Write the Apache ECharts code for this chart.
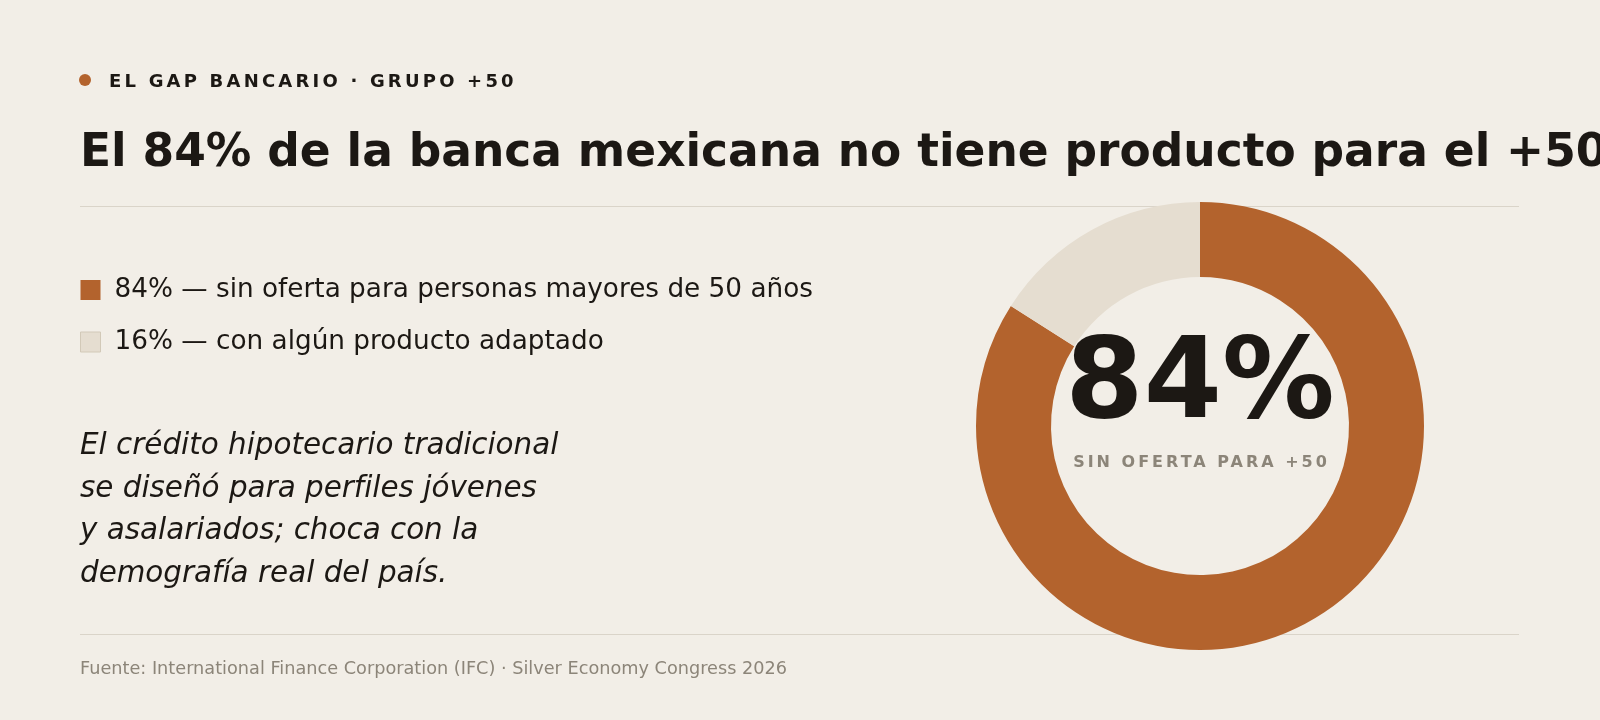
<!DOCTYPE html>
<html lang="es">
<head>
<meta charset="utf-8">
<title>El gap bancario · Grupo +50</title>
<script src="https://cdn.jsdelivr.net/npm/echarts@6/dist/echarts.min.js"></script>
<style>
  html, body {
    margin: 0;
    padding: 0;
    background: #f2eee7;
    font-family: "DejaVu Sans", sans-serif;
    color: #1c1814;
  }
  .page {
    position: relative;
    width: 1600px;
    height: 720px;
    overflow: hidden;
    background: #f2eee7;
  }
  #chart {
    position: absolute;
    left: 0;
    top: 0;
    width: 1600px;
    height: 720px;
  }
  .overlay {
    position: absolute;
    white-space: nowrap;
    pointer-events: none;
  }
  .dot {
    position: absolute;
    left: 79px;
    top: 74px;
    width: 12px;
    height: 12px;
    border-radius: 50%;
    background: #b3632d;
  }
  .kicker {
    left: 109px;
    top: 71px;
    font-size: 18px;
    line-height: 20px;
    font-weight: bold;
    letter-spacing: 3.2px;
  }
  .headline {
    left: 80px;
    top: 128px;
    font-size: 45.5px;
    line-height: 46px;
    font-weight: bold;
  }
  .rule {
    position: absolute;
    left: 80px;
    width: 1439px;
    height: 1px;
    background: #dad4c9;
  }
  .note {
    left: 80px;
    top: 423px;
    font-size: 29.4px;
    line-height: 42.5px;
    font-style: italic;
  }
  .source {
    left: 80px;
    top: 658px;
    font-size: 17.7px;
    line-height: 20px;
    color: #8c8579;
  }
  .center-label {
    left: 1000px;
    width: 400px;
    top: 452px;
    text-align: center;
    font-size: 16px;
    line-height: 20px;
    font-weight: bold;
    letter-spacing: 3px;
    padding-left: 3px;
    box-sizing: border-box;
    color: #8c8579;
  }
</style>
</head>
<body>
<div class="page">
  <div class="rule" style="top: 206px;"></div>
  <div class="rule" style="top: 634px;"></div>
  <div id="chart"></div>
  <div class="dot"></div>
  <div class="overlay kicker">EL GAP BANCARIO · GRUPO +50</div>
  <div class="overlay headline">El 84% de la banca mexicana no tiene producto para el +50</div>
  <div class="overlay note">El crédito hipotecario tradicional<br>se diseñó para perfiles jóvenes<br>y asalariados; choca con la<br>demografía real del país.</div>
  <div class="overlay source">Fuente: International Finance Corporation (IFC) · Silver Economy Congress 2026</div>
  <div class="overlay center-label">SIN OFERTA PARA +50</div>
</div>

<script>
// datos
const categories = ['sin oferta para personas mayores de 50 años', 'con algún producto adaptado'];
const shares = [84, 16];
const sliceColors = ['#b3632d', '#e5ddd0'];

const chart = echarts.init(document.getElementById('chart'), null, { renderer: 'canvas' });

const pieData = categories.map((name, i) => ({
  name: name,
  value: shares[i],
  itemStyle: { color: sliceColors[i] }
}));

const option = {
  backgroundColor: 'transparent',
  animation: false,
  legend: {
    orient: 'vertical',
    left: 75,
    top: 272,
    icon: 'rect',
    itemWidth: 20,
    itemHeight: 20,
    itemGap: 26,
    selectedMode: false,
    data: [
      { name: categories[0] },
      { name: categories[1], itemStyle: { borderColor: '#d2c9b8', borderWidth: 1 } }
    ],
    formatter: (name) => {
      const idx = categories.indexOf(name);
      return shares[idx] + '% — ' + name;
    },
    textStyle: {
      fontFamily: 'DejaVu Sans',
      fontSize: 26.3,
      lineHeight: 26,
      color: '#1c1814',
      padding: [0, 0, 0, 9]
    }
  },
  graphic: [{
    type: 'text',
    silent: true,
    x: 1200,
    y: 388,
    style: {
      text: shares[0] + '%',
      align: 'center',
      verticalAlign: 'middle',
      fontFamily: 'DejaVu Sans',
      fontWeight: 'bold',
      fontSize: 112.5,
      fill: '#1c1814'
    }
  }],
  series: [{
    type: 'pie',
    center: [1200, 426],
    radius: [149, 224],
    startAngle: 90,
    clockwise: true,
    silent: true,
    label: { show: false },
    labelLine: { show: false },
    emphasis: { disabled: true },
    data: pieData
  }]
};

chart.setOption(option);

window.addEventListener('resize', () => chart.resize());
</script>
</body>
</html>
